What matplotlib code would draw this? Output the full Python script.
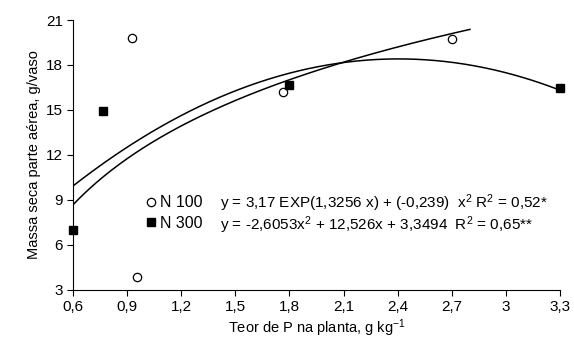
import numpy as np
import matplotlib
matplotlib.use("Agg")
import matplotlib.pyplot as plt

plt.rcParams['font.family'] = ['Liberation Sans', 'DejaVu Sans']
plt.rcParams['mathtext.default'] = 'regular'

# observed points
x_n100 = [0.93, 0.955, 1.765, 2.70]
y_n100 = [19.8, 3.87, 16.2, 19.75]
x_n300 = [0.60, 0.766, 1.80, 3.30]
y_n300 = [7.0, 14.93, 16.65, 16.47]

# fitted curves
n300_coef = [-2.6053, 12.526, 3.3494]   # quadratic, from the chart
n100_log = [12.55, 7.6]                 # a + b*ln(x)
n100_range = (0.6, 2.8)
n300_range = (0.6, 3.3)

eq_n100 = "y = 3,17 EXP(1,3256 x) + (-0,239)  x$^2$ R$^2$ = 0,52*"
eq_n300 = "y = -2,6053x$^2$ + 12,526x + 3,3494  R$^2$ = 0,65**"

xticks = [0.6, 0.9, 1.2, 1.5, 1.8, 2.1, 2.4, 2.7, 3.0, 3.3]
xtick_labels = ["0,6", "0,9", "1,2", "1,5", "1,8", "2,1", "2,4", "2,7", "3", "3,3"]
yticks = [3, 6, 9, 12, 15, 18, 21]

fig = plt.figure(figsize=(5.74, 3.51), dpi=100)
ax = fig.add_axes([0.127, 0.174, 0.849, 0.769])

xa = np.linspace(*n100_range, 200)
ax.plot(xa, n100_log[0] + n100_log[1] * np.log(xa), color='black', lw=1.1)
xb = np.linspace(*n300_range, 200)
ax.plot(xb, np.polyval(n300_coef, xb), color='black', lw=1.1)

h1, = ax.plot(x_n100, y_n100, 'o', mfc='white', mec='black', ms=6, mew=0.9, clip_on=False)
h2, = ax.plot(x_n300, y_n300, 's', mfc='black', mec='black', ms=5.5, clip_on=False)

ax.set_xlim(0.6, 3.3)
ax.set_ylim(3, 21)
ax.set_xticks(xticks)
ax.set_xticklabels(xtick_labels)
ax.set_yticks(yticks)
ax.tick_params(direction='out', length=4, width=0.8, labelsize=11, pad=3)
for s in ['top', 'right']:
    ax.spines[s].set_visible(False)

ax.set_xlabel("Teor de P na planta, g kg$^{-1}$", fontsize=10.5, labelpad=3)
ax.set_ylabel("Massa seca parte aérea, g/vaso", fontsize=10.5, labelpad=4)

fig.legend([h1, h2], ["N 100", "N 300"], loc='center left',
           bbox_to_anchor=(138 / 574, 1 - 213 / 351),
           frameon=False, fontsize=11.5, handlelength=0.6, handletextpad=0.3,
           labelspacing=0.35, borderpad=0)
fig.text(220 / 574, 1 - 203 / 351, eq_n100, fontsize=11, va='center')
fig.text(220 / 574, 1 - 225 / 351, eq_n300, fontsize=11, va='center')

fig.savefig("out.png", dpi=100)
